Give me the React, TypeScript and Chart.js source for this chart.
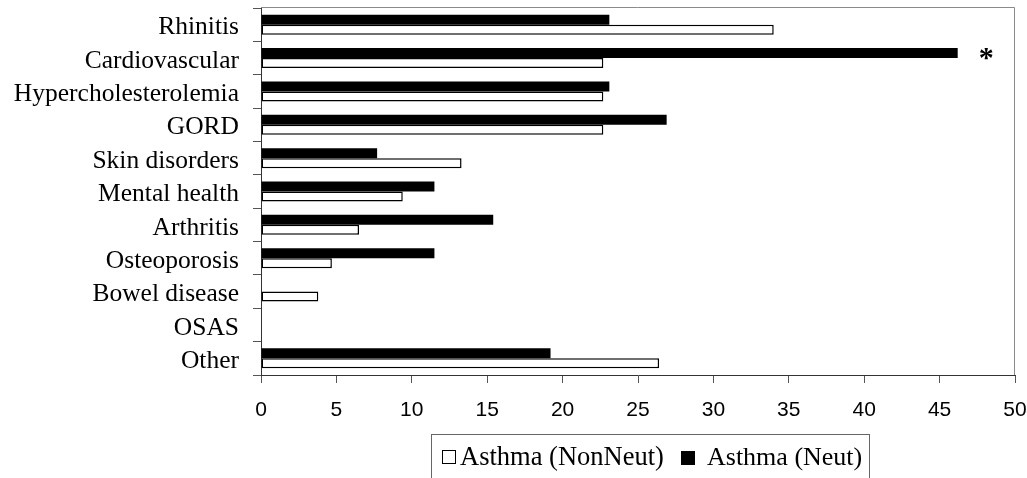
import React, { useEffect, useRef } from "react";
import { Chart, registerables } from "chart.js";

Chart.register(...registerables);

const categories = [
  "Rhinitis",
  "Cardiovascular",
  "Hypercholesterolemia",
  "GORD",
  "Skin disorders",
  "Mental health",
  "Arthritis",
  "Osteoporosis",
  "Bowel disease",
  "OSAS",
  "Other",
];
const neutValues = [23.1, 46.2, 23.1, 26.9, 7.7, 11.5, 15.4, 11.5, 0, 0, 19.2];
const nonNeutValues = [34.0, 22.7, 22.7, 22.7, 13.3, 9.4, 6.5, 4.7, 3.8, 0, 26.4];
const xMin = 0;
const xMax = 50;
const xStep = 5;
const seriesNames = ["Asthma (NonNeut)", "Asthma (Neut)"];
const starCategoryIndex = 1;
const starValue = 48.1;

const SERIF = '"Liberation Serif", "Times New Roman", serif';
const SANS = '"Liberation Sans", Arial, sans-serif';

const framePlugin = {
  id: "frame",
  beforeDatasetsDraw(chart: any) {
    const { ctx, chartArea } = chart;
    ctx.save();
    ctx.strokeStyle = "#8a8a8a";
    ctx.lineWidth = 1;
    ctx.beginPath();
    ctx.moveTo(chartArea.left, chartArea.top - 0.5);
    ctx.lineTo(chartArea.right - 0.5, chartArea.top - 0.5);
    ctx.lineTo(chartArea.right - 0.5, chartArea.bottom);
    ctx.stroke();
    ctx.restore();
  },
  afterDraw(chart: any) {
    const { ctx } = chart;
    const xs = chart.scales.x;
    const ys = chart.scales.y;
    ctx.save();
    // asterisk annotation
    ctx.fillStyle = "#000";
    ctx.font = `bold 30px ${SERIF}`;
    ctx.textAlign = "center";
    ctx.textBaseline = "alphabetic";
    ctx.fillText("*", xs.getPixelForValue(starValue), ys.getPixelForValue(starCategoryIndex) + 9);

    // legend
    ctx.strokeStyle = "#666";
    ctx.lineWidth = 1;
    ctx.strokeRect(431.5, 434.5, 438, 80);
    ctx.fillStyle = "#fff";
    ctx.fillRect(442, 450, 13, 13);
    ctx.strokeStyle = "#000";
    ctx.strokeRect(442.5, 450.5, 13, 13);
    ctx.fillStyle = "#000";
    ctx.font = `26.5px ${SERIF}`;
    ctx.textAlign = "left";
    ctx.fillText(seriesNames[0], 460, 465);
    ctx.fillRect(681, 451, 14, 14);
    ctx.font = `26px ${SERIF}`;
    ctx.fillText(seriesNames[1], 707, 465);
    ctx.restore();
  },
};

export default function App() {
  const canvasRef = useRef<HTMLCanvasElement | null>(null);

  useEffect(() => {
    if (!canvasRef.current) return;
    const chart = new Chart(canvasRef.current, {
      type: "bar",
      data: {
        labels: categories,
        datasets: [
          {
            label: seriesNames[1],
            data: neutValues,
            backgroundColor: "#000",
            borderWidth: 0,
            categoryPercentage: 0.6,
            barPercentage: 1.0,
          },
          {
            label: seriesNames[0],
            data: nonNeutValues,
            backgroundColor: "#fff",
            borderColor: "#000",
            borderWidth: 1.5,
            borderSkipped: false,
            categoryPercentage: 0.6,
            barPercentage: 1.0,
          },
        ],
      },
      options: {
        indexAxis: "y",
        animation: false,
        responsive: true,
        maintainAspectRatio: false,
        layout: { padding: { left: 0, right: 12, top: 8, bottom: 53 } },
        plugins: {
          legend: { display: false },
          tooltip: { enabled: false },
        },
        scales: {
          x: {
            type: "linear",
            min: xMin,
            max: xMax,
            ticks: {
              stepSize: xStep,
              color: "#000",
              font: { family: SANS, size: 21 },
              padding: 15,
            },
            grid: {
              drawOnChartArea: false,
              drawTicks: true,
              tickLength: 8,
              color: "#555",
            },
            border: { display: true, color: "#333", width: 1 },
            afterFit(scale: any) {
              scale.height = 50;
              scale.paddingLeft = 0;
              scale.paddingRight = 0;
            },
          },
          y: {
            type: "category",
            ticks: {
              color: "#000",
              font: { family: SERIF, size: 25.5 },
              padding: 14,
              labelOffset: 3,
              autoSkip: false,
            },
            grid: {
              drawOnChartArea: false,
              drawTicks: true,
              tickLength: 8,
              color: "#555",
              offset: true,
            },
            border: { display: true, color: "#333", width: 1 },
            afterFit(scale: any) {
              scale.width = 261;
              scale.paddingTop = 0;
              scale.paddingBottom = 0;
            },
          },
        },
      },
      plugins: [framePlugin],
    });
    return () => chart.destroy();
  }, []);

  return (
    <div style={{ position: "fixed", left: 0, top: 0, width: 1027, height: 478, background: "#fff" }}>
      <canvas ref={canvasRef} />
    </div>
  );
}
